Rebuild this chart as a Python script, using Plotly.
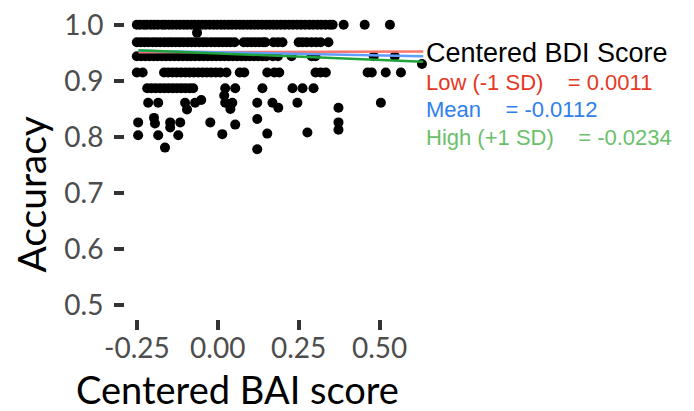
import plotly.graph_objects as go

# Centered BAI score (x) for participants, grouped by accuracy level (y)
acc_levels = [1.0, 0.969, 0.944, 0.915, 0.887]
bai_by_level = [
    [-0.25, -0.24, -0.228, -0.219, -0.207, -0.196, -0.185, -0.172, -0.163, -0.151,
     -0.14, -0.128, -0.117, -0.105, -0.094, -0.082, -0.071, -0.06, -0.048, -0.037,
     -0.025, -0.013, -0.002, 0.01, 0.021, 0.033, 0.044, 0.056, 0.068, 0.079,
     0.091, 0.102, 0.114, 0.125, 0.137, 0.149, 0.16, 0.172, 0.183, 0.195,
     0.207, 0.22, 0.232, 0.245, 0.257, 0.27, 0.283, 0.295, 0.308, 0.32,
     0.333, 0.346, 0.355, 0.389, 0.454, 0.532],
    [-0.25, -0.238, -0.226, -0.214, -0.201, -0.19, -0.178, -0.165, -0.153, -0.142,
     -0.13, -0.118, -0.106, -0.093, -0.081, -0.07, -0.057, -0.045, -0.034, -0.021,
     -0.009, 0.003, 0.015, 0.027, 0.039, 0.052, 0.08, 0.092, 0.104, 0.116,
     0.128, 0.14, 0.147, 0.172, 0.186, 0.2, 0.25, 0.262, 0.275, 0.29,
     0.304, 0.318, 0.342],
    [-0.25, -0.237, -0.224, -0.211, -0.198, -0.186, -0.173, -0.16, -0.147, -0.134,
     -0.121, -0.108, -0.095, -0.083, -0.07, -0.057, -0.044, -0.031, -0.018, -0.005,
     0.008, 0.021, 0.034, 0.047, 0.06, 0.073, 0.086, 0.099, 0.112, 0.125,
     0.138, 0.15, 0.17, 0.186, 0.228, 0.29, 0.302, 0.482, 0.547],
    [-0.25, -0.232, -0.166, -0.153, -0.14, -0.127, -0.114, -0.1, -0.087, -0.074,
     -0.06, -0.047, -0.034, -0.02, -0.006, 0.008, 0.027, 0.068, 0.082, 0.153,
     0.175, 0.19, 0.302, 0.318, 0.334, 0.463, 0.476, 0.519, 0.566],
    [-0.218, -0.205, -0.192, -0.178, -0.165, -0.152, -0.139, -0.126, -0.113, -0.1,
     -0.087, -0.076, 0.023, 0.054, 0.138, 0.231, 0.262, 0.296],
]

# Remaining (scattered) participants
other_bai = [-0.064, 0.631, 0.02,
             -0.215, -0.184, -0.101, -0.07, 0.023, 0.045, 0.122, 0.169, 0.246, 0.504,
             -0.051, 0.187, 0.373, -0.095, 0.039,
             -0.246, -0.197, -0.194, -0.147, -0.116, -0.023, 0.054, 0.122, -0.147,
             0.373, 0.373,
             -0.246, -0.184, -0.122, 0.014, 0.153, 0.277,
             -0.163, 0.122]
other_acc = [0.986, 0.930, 0.874,
             0.861, 0.861, 0.861, 0.861, 0.861, 0.861, 0.861, 0.861, 0.861, 0.861,
             0.866, 0.852, 0.852, 0.849, 0.850,
             0.826, 0.834, 0.824, 0.826, 0.826, 0.826, 0.822, 0.832, 0.817,
             0.826, 0.813,
             0.803, 0.803, 0.803, 0.805, 0.806, 0.808,
             0.781, 0.778]

# Simple slopes of BAI at three levels of centered BDI
bdi_labels = ["Low (-1 SD)", "Mean", "High (+1 SD)"]
slopes = [0.0011, -0.0112, -0.0234]
intercepts = [0.9515, 0.951, 0.949]
line_colors = ["#F8766D", "#619CFF", "#1FA33A"]
text_colors = ["#E5391F", "#2F80EC", "#6BC06B"]
line_x = [-0.245, 0.635]

x_ticks = [-0.25, 0.0, 0.25, 0.5]
y_ticks = [0.5, 0.6, 0.7, 0.8, 0.9, 1.0]

xs, ys = [], []
for lvl, row in zip(acc_levels, bai_by_level):
    xs.extend(row)
    ys.extend([lvl] * len(row))
xs.extend(other_bai)
ys.extend(other_acc)

fig = go.Figure()
fig.add_trace(go.Scatter(x=xs, y=ys, mode="markers",
                         marker=dict(color="black", size=10, line=dict(width=0)),
                         showlegend=False, hoverinfo="skip"))
for b0, b1, col in zip(intercepts, slopes, line_colors):
    fig.add_trace(go.Scatter(x=line_x, y=[b0 + b1 * v for v in line_x], mode="lines",
                             line=dict(color=col, width=2.5), showlegend=False))

# plot-area geometry in pixels (used to place annotations in paper space)
W, H = 694, 411
L, R, T, B = 125, 264, 7, 92
pw, ph = W - L - R, H - T - B


def px(x):
    return (x - L) / pw


def py(y):
    return (H - B - y) / ph


tick_font = dict(family="Lato", size=28, color="#4D4D4D")
fig.update_xaxes(range=[-0.2866, 0.6558], tickvals=x_ticks,
                 ticktext=[f"{v:.2f}" for v in x_ticks],
                 ticks="outside", ticklen=10, tickwidth=3.5, tickcolor="#333333",
                 ticklabelstandoff=-6,
                 tickfont=tick_font, showgrid=False, zeroline=False, showline=False)
fig.update_yaxes(range=[0.4754, 1.0246], tickvals=y_ticks,
                 ticktext=[f"{v:.1f}" for v in y_ticks],
                 ticks="outside", ticklen=10, tickwidth=3.5, tickcolor="#333333",
                 ticklabelstandoff=5,
                 tickfont=tick_font, showgrid=False, zeroline=False, showline=False)

annots = [
    dict(text="Centered BAI score", x=px(237), y=py(390), xanchor="center", yanchor="middle",
         font=dict(family="Lato", size=38, color="black")),
    dict(text="Accuracy", x=px(31), y=py(193), xanchor="center", yanchor="middle",
         textangle=-90, font=dict(family="Lato", size=39, color="black")),
    dict(text="Centered BDI Score", x=px(424), y=py(50), xanchor="left", yanchor="middle",
         font=dict(family="Liberation Sans", size=27, color="black")),
]
nb = "\u00a0"
for i, (lab, s, c) in enumerate(zip(bdi_labels, slopes, text_colors)):
    annots.append(dict(text=f"{lab}{nb * 4}= {s:.4f}", x=px(424), y=py([79, 107, 135][i]),
                       xanchor="left", yanchor="middle",
                       font=dict(family="Liberation Sans", size=22, color=c)))
for a in annots:
    a.update(xref="paper", yref="paper", showarrow=False)

fig.update_layout(width=W, height=H, margin=dict(l=L, r=R, t=T, b=B),
                  plot_bgcolor="white", paper_bgcolor="white",
                  annotations=annots, showlegend=False)

fig.write_html("out.html")
